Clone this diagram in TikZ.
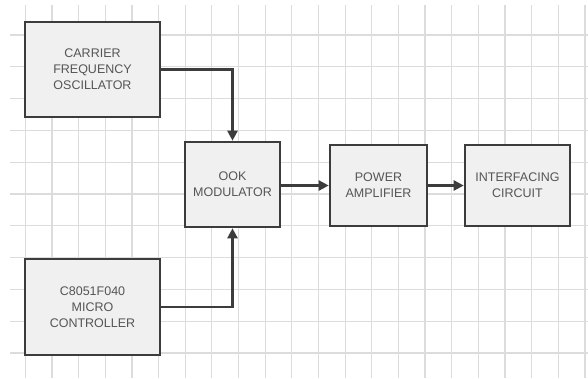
\documentclass[tikz,border=0pt]{standalone}
\usepackage{fontspec}
\setmainfont{Liberation Sans}
\usetikzlibrary{arrows.meta}
\definecolor{gridgray}{HTML}{DCDCDC}
\definecolor{boxline}{HTML}{3C3C3C}
\definecolor{boxfill}{HTML}{F0F0F0}
\definecolor{labelgray}{HTML}{555555}
\tikzset{
  block/.style={draw=boxline, line width=2.6pt, fill=boxfill, text=labelgray,
    align=center, font=\fontsize{12.5}{16}\selectfont, inner sep=0pt},
  link/.style={draw=boxline, line width=2.4pt,
    -{Triangle[width=10pt,length=10pt]}},
  gridline/.style={draw=gridgray, line width=1.2pt}
}
\begin{document}
\begin{tikzpicture}[x=1pt,y=-1pt]
\useasboundingbox (0,0) rectangle (588,378);
\fill[white] (0,0) rectangle (588,378);
\foreach \k in {0,...,21} \draw[gridline] (25.3+26.65*\k,5) -- (25.3+26.65*\k,378);
\foreach \k in {0,...,10} \draw[gridline] (10,35+31.8*\k) -- (588,35+31.8*\k);
\node[block, minimum width=135pt, minimum height=95pt] (carrier) at (92.5,69.5)
  {CARRIER\\FREQUENCY\\OSCILLATOR};
\node[block, minimum width=135pt, minimum height=96pt] (micro) at (92.5,307)
  {C8051F040\\MICRO\\CONTROLLER};
\node[block, minimum width=95pt, minimum height=85pt] (ook) at (232.5,184.5)
  {OOK\\MODULATOR};
\node[block, minimum width=97pt, minimum height=81pt] (power) at (378.5,185.5)
  {POWER\\AMPLIFIER};
\node[block, minimum width=105pt, minimum height=81pt] (interf) at (517.5,185.5)
  {INTERFACING\\CIRCUIT};
\draw[link] (carrier.east) -| (ook.north);
\draw[link] (micro.east) -| (ook.south);
\draw[link] (ook.east |- power.west) -- (power.west);
\draw[link] (power.east) -- (interf.west);
\end{tikzpicture}
\end{document}
